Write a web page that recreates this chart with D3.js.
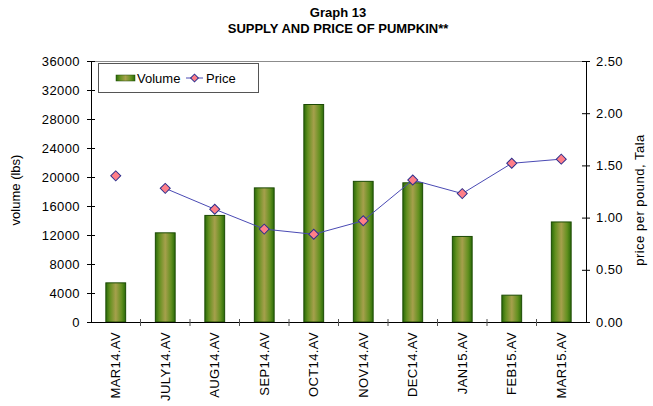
<!DOCTYPE html>
<html>
<head>
<meta charset="utf-8">
<script src="https://cdn.jsdelivr.net/npm/d3@7"></script>
<style>
  body { margin: 0; background: #fff; }
  svg text { font-family: "Liberation Sans", Arial, sans-serif; }
</style>
</head>
<body>
<div id="chart"></div>
<script>
// data
var months = ["MAR14.AV", "JULY14.AV", "AUG14.AV", "SEP14.AV", "OCT14.AV",
              "NOV14.AV", "DEC14.AV", "JAN15.AV", "FEB15.AV", "MAR15.AV"];
var volume = [5400, 12300, 14700, 18500, 30000, 19400, 19200, 11800, 3700, 13800];
var price  = [1.40, 1.28, 1.08, 0.89, 0.84, 0.97, 1.36, 1.23, 1.52, 1.56];
// MAR14 price point is not joined to the line in the original
var joined = [false, true, true, true, true, true, true, true, true, true];
var volumeTicks = [0, 4000, 8000, 12000, 16000, 20000, 24000, 28000, 32000, 36000];
var priceTicks = [0, 0.5, 1, 1.5, 2, 2.5];

var W = 653, H = 406;
var plotL = 91, plotR = 586, plotT = 61, plotB = 322;

var svg = d3.select("#chart").append("svg")
    .attr("width", W)
    .attr("height", H);

var defs = svg.append("defs");
var grad = defs.append("linearGradient")
    .attr("id", "barGrad")
    .attr("x1", "0%").attr("x2", "100%")
    .attr("y1", "0%").attr("y2", "0%");
[[0, "#2a6a08"], [0.2, "#62901f"], [0.5, "#a6a04c"], [0.8, "#62901f"], [1, "#2a6a08"]]
  .forEach(function(s) {
    grad.append("stop").attr("offset", s[0]).attr("stop-color", s[1]);
  });

// scales
var x = d3.scaleBand().domain(months).range([plotL, plotR]).padding(0);
var y = d3.scaleLinear().domain([0, 36000]).range([plotB, plotT]);
var y2 = d3.scaleLinear().domain([0, 2.5]).range([plotB, plotT]);

// title
svg.append("text")
    .attr("x", 338).attr("y", 17)
    .attr("text-anchor", "middle")
    .style("font-size", "13px").style("font-weight", "bold")
    .text("Graph 13");
svg.append("text")
    .attr("x", 338).attr("y", 33)
    .attr("text-anchor", "middle")
    .style("font-size", "13px").style("font-weight", "bold")
    .text("SUPPLY AND PRICE OF PUMPKIN**");

// plot area border (top only shows in gray)
svg.append("line")
    .attr("x1", plotL).attr("x2", plotR)
    .attr("y1", plotT + 0.5).attr("y2", plotT + 0.5)
    .attr("stroke", "#8c8c8c");

// bars
var bw = x.bandwidth() * 0.4;
svg.append("g").selectAll("rect")
    .data(volume)
    .enter().append("rect")
    .attr("x", function(d, i) { return x(months[i]) + (x.bandwidth() - bw) / 2; })
    .attr("y", function(d) { return y(d); })
    .attr("width", bw)
    .attr("height", function(d) { return plotB - y(d); })
    .attr("fill", "url(#barGrad)")
    .attr("stroke", "#1c4a04")
    .attr("stroke-width", 1);

// axes
var leftAxis = svg.append("g")
    .attr("transform", "translate(" + plotL + ",0)")
    .call(d3.axisLeft(y).tickValues(volumeTicks).tickFormat(d3.format("d")).tickSize(4).tickPadding(7));
var rightAxis = svg.append("g")
    .attr("transform", "translate(" + plotR + ",0)")
    .call(d3.axisRight(y2).tickValues(priceTicks).tickFormat(d3.format(".2f")).tickSize(4).tickPadding(6));
var bottomAxis = svg.append("g")
    .attr("transform", "translate(0," + plotB + ")")
    .call(d3.axisBottom(x).tickSize(0).tickFormat(""));

[leftAxis, rightAxis, bottomAxis].forEach(function(g) {
  g.select(".domain").attr("stroke", "#000");
  g.selectAll(".tick line").attr("stroke", "#000");
  g.selectAll("text").style("font-size", "13px").attr("fill", "#000")
    .style("letter-spacing", "0.4px")
    .style("font-family", "'Liberation Sans', Arial, sans-serif");
});
// cross ticks
leftAxis.selectAll(".tick line").attr("x1", 4);
rightAxis.selectAll(".tick line").attr("x1", -4);

// category divider ticks on the x axis
var edges = months.map(function(m) { return x(m); }).concat([plotR]);
svg.append("g").selectAll("line")
    .data(edges.slice(1, -1))
    .enter().append("line")
    .attr("x1", function(d) { return d; }).attr("x2", function(d) { return d; })
    .attr("y1", plotB - 3).attr("y2", plotB + 4)
    .attr("stroke", "#555");

// rotated category labels
svg.append("g").selectAll("text")
    .data(months)
    .enter().append("text")
    .attr("transform", function(d) {
      return "translate(" + (x(d) + x.bandwidth() / 2 + 4.5) + "," + (plotB + 10) + ") rotate(-90)";
    })
    .attr("text-anchor", "end")
    .style("font-size", "13px")
    .style("letter-spacing", "0.4px")
    .text(function(d) { return d; });

// axis titles
svg.append("text")
    .attr("transform", "translate(20,190) rotate(-90)")
    .attr("text-anchor", "middle")
    .style("font-size", "13px")
    .text("volume (lbs)");
svg.append("text")
    .attr("transform", "translate(644,200) rotate(-90)")
    .attr("text-anchor", "middle")
    .style("font-size", "13px")
    .style("letter-spacing", "0.5px")
    .text("price per pound, Tala");

// price line
var line = d3.line()
    .defined(function(d, i) { return joined[i]; })
    .x(function(d, i) { return x(months[i]) + x.bandwidth() / 2; })
    .y(function(d) { return y2(d); });
svg.append("path")
    .datum(price)
    .attr("d", line)
    .attr("fill", "none")
    .attr("stroke", "#4a4ab4")
    .attr("stroke-width", 1);

svg.append("g").selectAll("path")
    .data(price)
    .enter().append("path")
    .attr("d", d3.symbol().type(d3.symbolSquare).size(50))
    .attr("transform", function(d, i) {
      return "translate(" + (x(months[i]) + x.bandwidth() / 2) + "," + y2(d) + ") rotate(45)";
    })
    .attr("fill", "#ff7f88")
    .attr("stroke", "#2e2e8c")
    .attr("stroke-width", 1);

// legend
var lg = svg.append("g");
lg.append("rect")
    .attr("x", 98.5).attr("y", 63.5)
    .attr("width", 160).attr("height", 29)
    .attr("fill", "#fff").attr("stroke", "#555");
lg.append("rect")
    .attr("x", 116).attr("y", 75)
    .attr("width", 19).attr("height", 6)
    .attr("fill", "url(#barGrad)").attr("stroke", "#1c4a04").attr("stroke-width", 0.5);
lg.append("text")
    .attr("x", 137).attr("y", 83)
    .style("font-size", "13px")
    .text("Volume");
lg.append("line")
    .attr("x1", 186).attr("x2", 203)
    .attr("y1", 78).attr("y2", 78)
    .attr("stroke", "#4a4ab4");
lg.append("path")
    .attr("d", d3.symbol().type(d3.symbolSquare).size(30))
    .attr("transform", "translate(194.5,78) rotate(45)")
    .attr("fill", "#ff7f88").attr("stroke", "#2e2e8c");
lg.append("text")
    .attr("x", 206).attr("y", 83)
    .style("font-size", "13px")
    .text("Price");
</script>
</body>
</html>
